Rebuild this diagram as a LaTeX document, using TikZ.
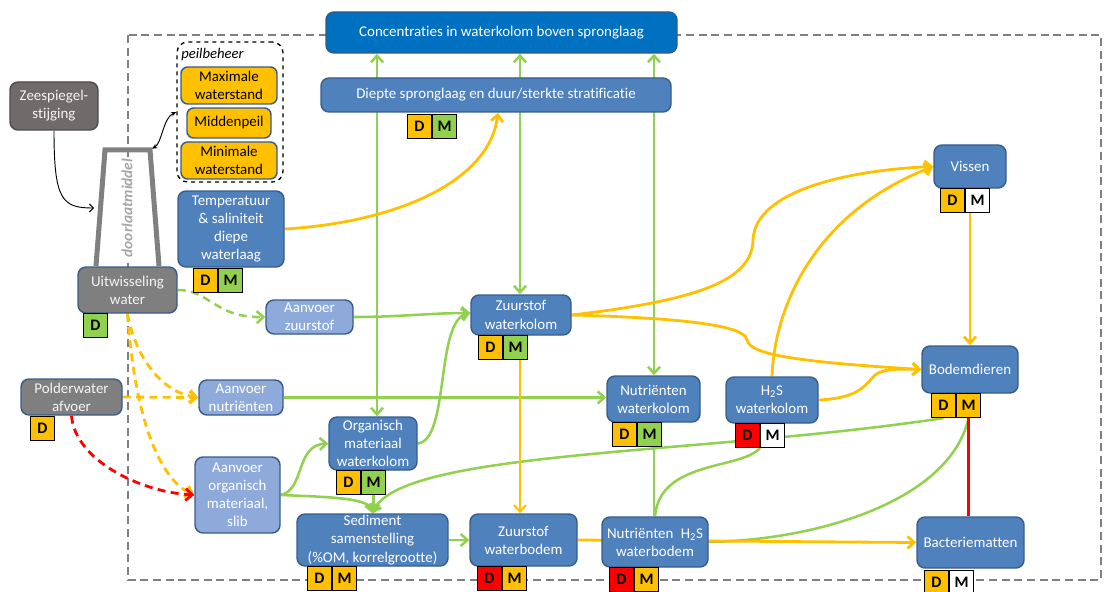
\documentclass[tikz,border=0pt]{standalone}
\usepackage{fontspec}
\setmainfont{Carlito}[Ligatures={NoCommon}]
\usetikzlibrary{arrows.meta}
\pgfdeclarelayer{framelayer}
\pgfdeclarelayer{wirelayer}
\pgfsetlayers{framelayer,wirelayer,main}

\definecolor{boxblue}{HTML}{4F81BD}
\definecolor{boxedge}{HTML}{385D8A}
\definecolor{topblue}{HTML}{0070C0}
\definecolor{topedge}{HTML}{2E5C8A}
\definecolor{lightblue}{HTML}{8EAADB}
\definecolor{nodegray}{HTML}{7F7F7F}
\definecolor{seagray}{HTML}{6F6B6B}
\definecolor{ora}{HTML}{FFC000}
\definecolor{grn}{HTML}{92D050}
\definecolor{rd}{HTML}{FF0000}
\definecolor{framegray}{HTML}{808080}
\definecolor{labelgray}{HTML}{A6A6A6}

% box from its pixel corners: name, x1, y1, x2, y2, style, text
\newcommand\bx[7]{\node[#6, minimum width={(#4-#2)*0.75pt}, minimum height={(#5-#3)*0.75pt}] (#1) at ({(#2+#4)/2},{(#3+#5)/2}) {#7};}
% D/M badge below a box: name, x, y (top left), colour D, colour M
\newcommand\dmbadge[5]{%
  \node[cell,fill=#4,anchor=north west] (#1d) at (#2,#3) {D};
  \node[cell,fill=#5,anchor=north west] (#1m) at (#1d.north east) {M};}
\newcommand\dbadge[4]{\node[cell,fill=#4,anchor=north west] (#1d) at (#2,#3) {D};}

\begin{document}
\begin{tikzpicture}[x=0.75pt,y=-0.75pt,
  >={Straight Barb[length=5pt,width=9pt]},
  box/.style={rounded corners=6pt, draw=boxedge, line width=1.1pt, fill=boxblue,
    text=white, align=center, inner sep=0pt, font=\fontsize{11.2}{13.6}\selectfont},
  topbox/.style={box, fill=topblue, draw=topedge},
  lbox/.style={box, fill=lightblue},
  gbox/.style={box, fill=nodegray, text=white!92!gray},
  zbox/.style={box, fill=seagray, draw=seagray!70!black, text=white!92!gray},
  peilbox/.style={box, fill=ora, text=black, rounded corners=5pt},
  pframe/.style={draw=black, dashed, line width=1pt, rounded corners=8pt, inner sep=0pt},
  cell/.style={draw=black, line width=0.8pt, minimum width=18pt, minimum height=18pt,
    inner sep=0pt, font=\fontsize{12}{12}\selectfont\bfseries},
  gw/.style={draw=grn, line width=1.9pt},
  yw/.style={draw=ora, line width=2.1pt},
  dsh/.style={dash pattern=on 6pt off 4pt},
  bw/.style={draw=black, line width=0.7pt}]

\useasboundingbox (0,0) rectangle (1108,592);

% dashed system boundary
\begin{pgfonlayer}{framelayer}
  \draw[framegray, line width=1.4pt, dash pattern=on 6pt off 3.5pt] (128,35) rectangle (1101,580);
\end{pgfonlayer}

% boxes
\bx{conc}{326}{12}{677}{53}{topbox}{Concentraties in waterkolom boven spronglaag}
\bx{dep}{321}{78}{671}{112}{box}{Diepte spronglaag en duur/sterkte stratificatie}
\dmbadge{dep}{407}{114}{ora}{grn}

\bx{zee}{10}{82}{98}{130}{zbox}{Zeespiegel-\\stijging}

\bx{peil}{177}{42}{283}{182}{pframe}{}
\node[anchor=west, inner sep=0pt, font=\fontsize{11}{13}\selectfont\itshape] (peiltxt) at (181,55) {peilbeheer};
\bx{maxw}{181}{67}{277}{104}{peilbox}{Maximale\\waterstand}
\bx{midp}{187}{108}{271}{138}{peilbox}{Middenpeil}
\bx{minw}{181}{142}{277}{179}{peilbox}{Minimale\\waterstand}

\node[rotate=90, fill=white, inner sep=1pt, text=labelgray,
  font=\fontsize{11.5}{13}\selectfont\bfseries\itshape] (dlm) at (127,208) {doorlaatmiddel};

\bx{uit}{78}{267}{177}{313}{gbox}{Uitwisseling\\water}
\dbadge{uit}{83}{313}{grn}
\bx{temp}{178}{191}{284}{267}{box}{Temperatuur\\\& saliniteit\\diepe\\waterlaag}
\dmbadge{temp}{193}{268}{ora}{grn}
\bx{azu}{266}{300}{353}{334}{lbox}{Aanvoer\\zuurstof}
\bx{anu}{199}{380}{283}{415}{lbox}{Aanvoer\\nutriënten}
\bx{pol}{21}{379}{122}{415}{gbox}{Polderwater\\afvoer}
\dbadge{pol}{30}{416}{ora}
\bx{aorg}{195}{457}{280}{533}{lbox}{Aanvoer\\organisch\\materiaal,\\slib}

\bx{orgwk}{329}{417}{417}{470}{box}{Organisch\\materiaal\\waterkolom}
\dmbadge{orgwk}{336}{470}{ora}{grn}
\bx{sed}{297}{514}{448}{566}{box}{Sediment\\samenstelling\\(\%OM, korrelgrootte)}
\dmbadge{sed}{307}{566}{ora}{ora}
\bx{zwk}{471}{295}{571}{335}{box}{Zuurstof\\waterkolom}
\dmbadge{zwk}{478}{335}{ora}{grn}
\bx{zwb}{470}{514}{577}{566}{box}{Zuurstof\\waterbodem}
\dmbadge{zwb}{477}{566}{rd}{ora}
\bx{nwk}{607}{376}{700}{422}{box}{Nutriënten\\waterkolom}
\dmbadge{nwk}{612}{422}{ora}{grn}
\bx{hwk}{726}{377}{818}{423}{box}{H\textsubscript{2}S\\waterkolom}
\dmbadge{hwk}{735}{423}{rd}{white}
\bx{nhb}{602}{517}{708}{567}{box}{Nutriënten\enspace H\textsubscript{2}S\\waterbodem}
\dmbadge{nhb}{609}{567}{rd}{ora}
\bx{vis}{934}{145}{1006}{188}{box}{Vissen}
\dmbadge{vis}{940}{188}{ora}{white}
\bx{bod}{922}{346}{1018}{393}{box}{Bodemdieren}
\dmbadge{bod}{931}{393}{ora}{ora}
\bx{bac}{917}{517}{1024}{568}{box}{Bacteriematten}
\dmbadge{bac}{924}{570}{ora}{white}

% reference columns and points
\coordinate (v1) at (377,0);
\coordinate (v2) at (520,0);
\coordinate (v3) at (654,0);
\coordinate (v5) at (498,0);
\coordinate (tpl) at (96,266);
\coordinate (tl) at (105,150);
\coordinate (tr) at (150,150);
\coordinate (tpr) at (159,266);
\coordinate (sidehit) at (94,208);
\coordinate (zin) at ([yshift=1.5pt]zwk.west);

\begin{pgfonlayer}{wirelayer}
  % sluice (doorlaatmiddel)
  \draw[framegray, line width=3.75pt, line join=miter] (tpl) -- (tl) -- (tr) -- (tpr);
  \draw[bw, ->, >={Straight Barb[length=3pt,width=6pt]}]
    (zee.south) .. controls (54,200) and (62,208) .. (sidehit);
  \draw[bw, {Stealth[length=4pt,width=3.5pt]}-{Stealth[length=4pt,width=3.5pt]}]
    ([xshift=1.5pt,yshift=1pt]tr) .. controls (162,143) and (163,118) .. (peil.west);

  % green: exchange with the upper water column
  \draw[gw, <->] (v1 |- conc.south) -- (v1 |- orgwk.north);
  \draw[gw, <->] (v2 |- conc.south) -- (v2 |- zwk.north);
  \draw[gw, <->] (v3 |- conc.south) -- (v3 |- nwk.north);
  \draw[gw, ->] (azu.east) .. controls (400,317) and (430,313) .. (zin);
  \draw[gw, ->] (anu.east) -- (nwk.west |- anu.east);
  \draw[gw, ->] (orgwk.east) .. controls (450,440) and (435,320) .. (zin);
  \draw[gw, ->] (aorg.east) .. controls (305,490) and (295,445) .. (orgwk.west);
  \draw[gw, ->] (aorg.east) .. controls (330,497) and (370,498) .. (sed.north);
  \draw[gw, ->] (orgwkm.south) -- (orgwkm.south |- sed.north);
  \draw[gw, ->] (bodd.south) .. controls (700,455) and (400,450) .. (sed.north);
  \draw[gw, ->] (sed.east) -- (zwb.west);
  \draw[gw] (hwkd.south east) .. controls (740,470) and (660,460) .. (nhb.north);
  \draw[gw] (v3 |- nwkm.south) -- (v3 |- nhb.north);
  \draw[gw] (bodm.south) .. controls (950,500) and (820,540) .. (nhb.east);
  \draw[gw, dsh, ->] (uit.east) .. controls (210,290) and (215,318) .. (azu.west);

  % yellow
  \draw[yw, ->] (temp.east) .. controls (400,222) and (490,180) .. (v5 |- dep.south);
  \draw[yw, line width=1.5pt, ->] (v2 |- zwkm.south) -- (v2 |- zwb.north);
  \draw[yw, ->] (zwk.east) .. controls (700,300) and (752,280) .. (753,240)
    .. controls (755,190) and (850,170) .. (vis.west);
  \draw[yw, ->] (zwk.east) .. controls (680,318) and (745,325) .. (747,340)
    .. controls (750,355) and (800,362) .. (bod.west);
  \draw[yw, ->] (hwk.north) .. controls (775,300) and (820,210) .. (vis.west);
  \draw[yw, ->] (hwk.east) .. controls (860,398) and (865,385) .. (875,375)
    .. controls (885,368) and (900,369) .. (bod.west);
  \draw[yw, ->] (vis.center |- vism.south) -- (vis.center |- bod.north);
  \draw[yw, ->] (zwb.east) -- (bac.west);
  \draw[yw, dsh, ->] (uit.south) .. controls (135,355) and (160,392) .. (anu.west);
  \draw[yw, dsh, ->] (uit.south) .. controls (135,420) and (160,480) .. (aorg.west);
  \draw[yw, dsh, ->] (pol.east) -- (anu.west);

  % red
  \draw[draw=rd, line width=2.1pt, dsh, ->] (pol.south) .. controls (75,460) and (140,492) .. (aorg.west);
  \draw[draw=rd, line width=1.9pt] (bodm.south) -- (bodm.south |- bac.north);
\end{pgfonlayer}
\end{tikzpicture}
\end{document}
